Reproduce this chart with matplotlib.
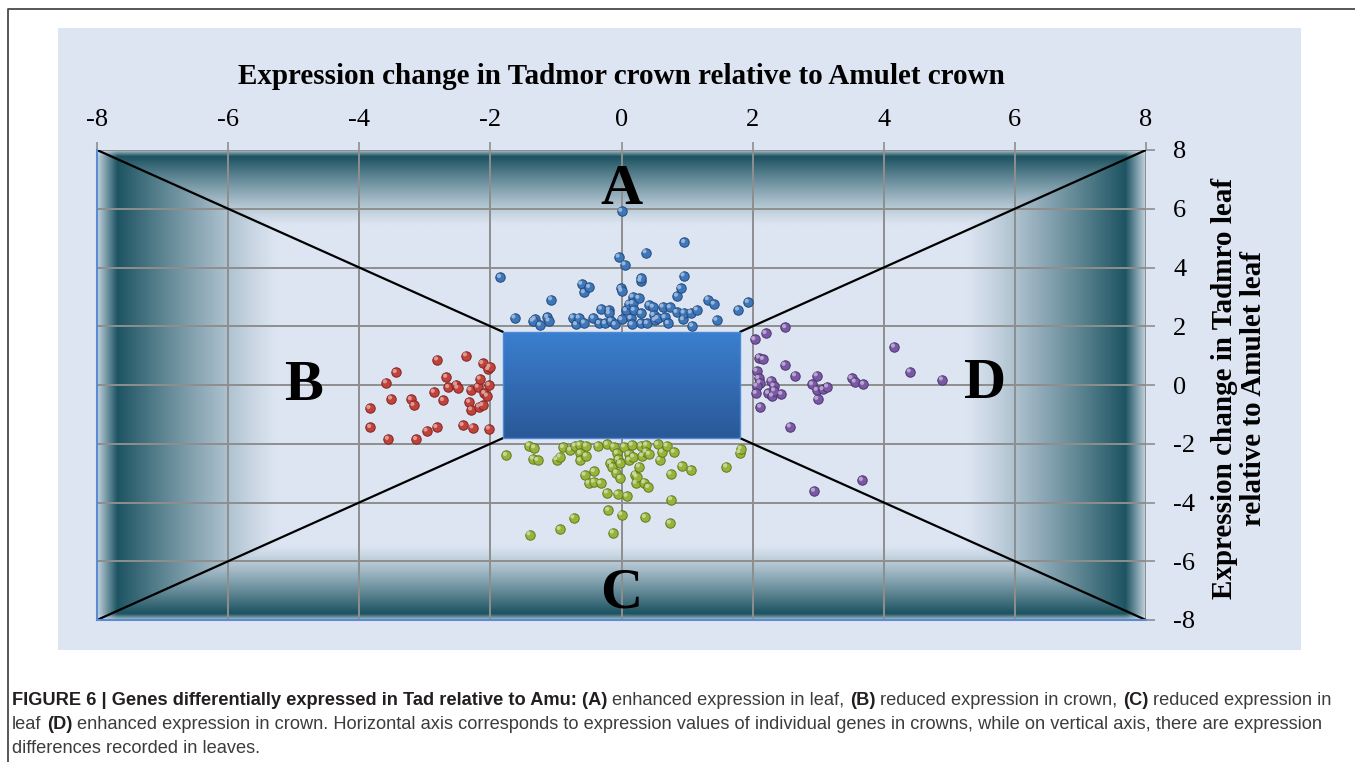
import numpy as np
import matplotlib
matplotlib.use("Agg")
import matplotlib.pyplot as plt
import matplotlib.transforms as mtransforms
from matplotlib.lines import Line2D
from matplotlib.patches import Rectangle
from matplotlib.colors import to_rgb

# ---------------- data ----------------
# A: enhanced expression in leaf (blue)
A_x = [-1.85, -1.63, -1.32, -1.35, -1.24, -1.13, -1.11, -1.07, -0.74, -0.69, -0.65, -0.61,
       -0.57, -0.49, -0.57, -0.43, -0.34, -0.31, -0.25, -0.19, -0.19, -0.16, -0.10, -0.04,
       -0.01, 0.00, 0.00, 0.05, 0.07, 0.11, 0.14, 0.16, 0.17, 0.17, 0.19, 0.26, 0.29, 0.30,
       0.30, 0.30, 0.37, 0.39, 0.42, 0.48, 0.49, 0.51, 0.55, 0.63, 0.66, 0.71, 0.74, 0.84,
       0.85, 0.90, 0.94, 0.95, 0.96, 0.95, 1.08, 1.06, 1.15, 1.32, 1.41, 1.45, 1.78, 1.93, 0.00]
A_y = [3.67, 2.29, 2.24, 2.18, 2.04, 2.31, 2.19, 2.91, 2.29, 2.06, 2.29, 3.44,
       3.15, 3.33, 2.12, 2.28, 2.10, 2.59, 2.10, 2.55, 2.44, 2.18, 2.06, 4.36,
       3.29, 3.20, 2.23, 4.10, 2.54, 2.76, 2.27, 2.06, 3.00, 2.78, 2.55, 2.96, 3.54, 3.63,
       2.44, 2.10, 4.51, 2.10, 2.72, 2.66, 2.38, 2.21, 2.27, 2.66, 2.30, 2.10, 2.64, 2.48,
       3.03, 3.29, 2.23, 3.72, 4.86, 2.46, 2.01, 2.46, 2.56, 2.91, 2.76, 2.21, 2.56, 2.82, 5.92]

# B: reduced expression in crown (red)
B_x = [-3.84, -3.83, -3.59, -3.56, -3.44, -3.51, -3.21, -3.17, -3.13, -2.97, -2.86, -2.82,
       -2.81, -2.72, -2.67, -2.64, -2.52, -2.50, -2.42, -2.37, -2.32, -2.30, -2.29, -2.27,
       -2.19, -2.17, -2.16, -2.12, -2.12, -2.09, -2.05, -2.03, -2.01, -2.02, -2.02]
B_y = [-0.79, -1.44, 0.08, -1.84, 0.43, -0.47, -0.49, -0.69, -1.85, -1.56, -0.24, -1.44,
       0.86, -0.52, 0.27, -0.08, 0.01, -0.10, -1.37, 1.00, -0.58, -0.17, -0.84, -1.45,
       -0.07, -0.74, 0.21, 0.74, -0.69, -0.28, -0.37, 0.53, 0.62, 0.00, -1.49]

# C: reduced expression in leaf (green)
C_x = [-1.76, -1.41, -1.33, -1.35, -1.28, -1.40, -0.99, -0.94, -0.94, -0.89, -0.78, -0.73,
       -0.71, -0.64, -0.63, -0.63, -0.54, -0.54, -0.56, -0.50, -0.42, -0.42, -0.32, -0.36,
       -0.22, -0.22, -0.20, -0.17, -0.14, -0.13, -0.12, -0.07, -0.08, -0.06, -0.05, -0.02,
       -0.02, 0.00, 0.04, 0.08, 0.11, 0.12, 0.16, 0.18, 0.21, 0.22, 0.23, 0.27, 0.30, 0.32,
       0.36, 0.35, 0.38, 0.37, 0.41, 0.42, 0.55, 0.58, 0.62, 0.69, 0.75, 0.76, 0.74, 0.80,
       0.92, 1.06, 1.60, 1.80, 1.82]
C_y = [-2.39, -2.06, -2.13, -2.51, -2.56, -5.09, -2.54, -2.44, -4.91, -2.12, -2.21, -4.52,
       -2.07, -2.04, -2.32, -2.57, -2.07, -2.41, -3.06, -3.34, -2.94, -3.30, -3.34, -2.07,
       -2.02, -3.67, -4.26, -2.66, -2.78, -5.03, -2.10, -2.32, -2.98, -3.71, -2.53, -2.66,
       -3.17, -4.41, -2.10, -3.78, -2.35, -2.55, -2.04, -2.44, -3.05, -3.34, -3.12, -2.78,
       -2.07, -2.41, -4.50, -3.32, -2.04, -2.27, -3.48, -2.35, -2.02, -2.55, -2.28, -2.07,
       -3.03, -3.90, -4.70, -2.28, -2.76, -2.89, -2.78, -2.30, -2.17]

# D: enhanced expression in crown (purple)
D_x = [2.50, 2.20, 2.03, 2.10, 2.16, 2.49, 2.06, 2.09, 2.65, 2.98, 2.11, 2.28, 2.32, 2.06,
       2.05, 2.24, 2.30, 2.44, 2.33, 2.91, 2.98, 3.07, 3.14, 2.99, 3.51, 3.56, 3.69, 4.16,
       4.40, 4.89, 2.12, 2.57, 3.67, 2.94]
D_y = [1.96, 1.76, 1.55, 0.93, 0.88, 0.68, 0.48, 0.23, 0.32, 0.32, 0.08, 0.14, -0.03, -0.03,
       -0.28, -0.28, -0.37, -0.31, -0.19, 0.02, -0.17, -0.15, -0.06, -0.48, 0.23, 0.11, 0.03,
       1.30, 0.45, 0.18, -0.75, -1.42, -3.24, -3.61]

THRESHOLD = 1.8
XTICKS = [-8, -6, -4, -2, 0, 2, 4, 6, 8]
XTICK_LABELS = ["-8", "-6", "-4", "-2", "0", "2", "4", "6", "8"]
YTICKS = [-8, -6, -4, -2, 0, 2, 4, 6, 8]
YTICK_LABELS = ["-8", "-6", "-4", "-2", "0", "2", "4", "6", "8"]
X_TITLE = "Expression change in Tadmor crown relative to Amulet crown"
Y_TITLE = "Expression change in Tadmro leaf\nrelative to Amulet leaf"
REGION_LABELS = ["A", "B", "C", "D"]
CAPTION_LINES = [
    [("FIGURE 6 | Genes differentially expressed in Tad relative to Amu: (A)", True),
     ("enhanced expression in leaf,", False), ("(B)", True),
     ("reduced expression in crown,", False), ("(C)", True),
     ("reduced expression in", False)],
    [("leaf", False), ("(D)", True),
     ("enhanced expression in crown. Horizontal axis corresponds to expression values of "
      "individual genes in crowns, while on vertical axis, there are expression", False)],
    [("differences recorded in leaves.", False)],
]

# ---------------- figure ----------------
W, H = 1355, 762
fig = plt.figure(figsize=(W / 100, H / 100), dpi=100)
fig.patch.set_facecolor("white")

# outer frame (top and left lines)
fig.add_artist(Line2D([8 / W, 8 / W, 1.0], [0.0, 1 - 9 / H, 1 - 9 / H],
                      transform=fig.transFigure, color="#4a4a4a", lw=1.3))
# light-blue panel
fig.add_artist(Rectangle((58 / W, 1 - 650 / H), (1301 - 58) / W, (650 - 28) / H,
                         transform=fig.transFigure, facecolor="#dee5f2",
                         edgecolor="none", zorder=0))

ax = fig.add_axes([97 / W, 1 - 620 / H, (1146 - 97) / W, (620 - 150) / H])
ax.set_xlim(-8, 8)
ax.set_ylim(-8, 8)
ax.set_facecolor("#dde5f2")

# vignette background
n = 900
xs = np.linspace(-8, 8, n)
ys = np.linspace(8, -8, n)
X, Y = np.meshgrid(xs, ys)
dh = 8 - np.abs(X)
dv = 8 - np.abs(Y)


def core(d, peak, fade, p=1.2):
    t = np.clip((d - peak) / (fade - peak), 0, 1)
    return (1 - t) ** p


def edge(d, w, m):
    return np.clip(m + (1 - m) * d / w, 0, 1)


dark = np.array(to_rgb("#1f5563"))
light = np.array(to_rgb("#dde5f2"))
dk = np.maximum(core(dh, 0.32, 2.75), core(dv, 0.25, 2.55)) * edge(dh, 0.3, 0.15) * edge(dv, 0.2, 0.25)
img = light[None, None, :] + (dark - light)[None, None, :] * dk[..., None]
ax.imshow(img, extent=[-8, 8, -8, 8], aspect="auto", zorder=0, interpolation="bilinear")

# grid
for v in XTICKS:
    ax.axvline(v, color="#8e8e8e", lw=1.4, zorder=1)
for v in YTICKS:
    ax.axhline(v, color="#8e8e8e", lw=1.4, zorder=1)

# diagonals
T = THRESHOLD
for sx in (-1, 1):
    for sy in (-1, 1):
        ax.plot([8 * sx, T * sx], [8 * sy, T * sy], color="black", lw=1.6, zorder=2,
                solid_capstyle="butt")

# centre rectangle with gradient
grad = np.linspace(0, 1, 200)[:, None]
top_c = np.array(to_rgb("#3b7fcf"))
bot_c = np.array(to_rgb("#2a5898"))
rimg = top_c[None, None, :] + (bot_c - top_c)[None, None, :] * grad[..., None]
rimg = np.repeat(rimg, 2, axis=1)
ax.imshow(rimg, extent=[-T, T, -T, T], aspect="auto", zorder=3, interpolation="bilinear")
ax.add_patch(Rectangle((-T, -T), 2 * T, 2 * T, facecolor="none", edgecolor="#4d8ad6",
                       lw=1.0, zorder=3.1))

# spheres
hl = ax.transData + mtransforms.ScaledTranslation(-0.013, 0.013, fig.dpi_scale_trans)
groups = [
    (A_x, A_y, "#3d76b9", "#22497e"),
    (B_x, B_y, "#c0423a", "#7f2521"),
    (C_x, C_y, "#97b33a", "#5f7a1c"),
    (D_x, D_y, "#7a58a4", "#4c3571"),
]
for gx, gy, col, ec in groups:
    ax.scatter(gx, gy, s=46, color=col, edgecolors=ec, linewidths=0.7, zorder=4)
    c = np.array(to_rgb(col))
    hc = c + (1 - c) * 0.55
    ax.scatter(gx, gy, s=9, color=hc, edgecolors="none", zorder=4.1, alpha=0.85,
               transform=hl)

# region letters
letter_pos = [(0.0, 6.65), (-4.85, -0.05), (0.0, -7.1), (5.55, 0.05)]
for lab, (lx, ly) in zip(REGION_LABELS, letter_pos):
    ax.text(lx, ly, lab, ha="center", va="center", fontsize=42, fontweight="bold",
            family="Liberation Serif", color="black", zorder=5)

# axes / ticks
for side in ("top", "right"):
    ax.spines[side].set_visible(False)
for side in ("left", "bottom"):
    ax.spines[side].set_color("#5b8bd0")
    ax.spines[side].set_linewidth(1.5)
ax.set_xticks(XTICKS)
ax.set_xticklabels(XTICK_LABELS)
ax.set_yticks(YTICKS)
ax.set_yticklabels(YTICK_LABELS)
ax.tick_params(axis="x", top=True, bottom=False, labeltop=True, labelbottom=False,
               length=6, width=1.2, color="#8e8e8e", pad=8, labelsize=19)
ax.tick_params(axis="y", right=True, left=False, labelright=True, labelleft=False,
               length=6.5, width=1.2, color="#8e8e8e", pad=13, labelsize=19)
for lbl in ax.get_xticklabels() + ax.get_yticklabels():
    lbl.set_family("Liberation Serif")

fig.text(621 / W, 1 - 77 / H, X_TITLE, ha="center", va="center", fontsize=21,
         fontweight="bold", family="Liberation Serif")
fig.text(1239 / W, 1 - 388 / H, Y_TITLE, ha="center", va="center", rotation=90,
         multialignment="center", fontsize=21, fontweight="bold",
         family="Liberation Serif", linespacing=1.05)

# caption with mixed weights
CAP_FAMILY = ["Liberation Sans Narrow", "Liberation Sans"]
renderer = fig.canvas.get_renderer()


def measure(s, size, bold):
    t = fig.text(0, 0, s, fontsize=size, fontweight="bold" if bold else "normal",
                 family=CAP_FAMILY)
    w = t.get_window_extent(renderer).width
    t.remove()
    return w


def line_width(line, size):
    sp = measure("a a", size, False) - measure("aa", size, False)
    return sum(measure(s, size, b) for s, b in line) + sp * (len(line) - 1)


base = 10.0
size = base * (1338 - 12) / line_width(CAPTION_LINES[0], base)
space = measure("a a", size, False) - measure("aa", size, False)
baselines = [705, 729, 753]
for line, yb in zip(CAPTION_LINES, baselines):
    x = 12.0
    for s, b in line:
        t = fig.text(x / W, 1 - yb / H, s, fontsize=size, fontweight="bold" if b else "normal",
                     family=CAP_FAMILY, color="#231f20" if b else "#3c3c3c",
                     ha="left", va="baseline")
        x += t.get_window_extent(renderer).width + space

fig.savefig("out.png", dpi=100)
